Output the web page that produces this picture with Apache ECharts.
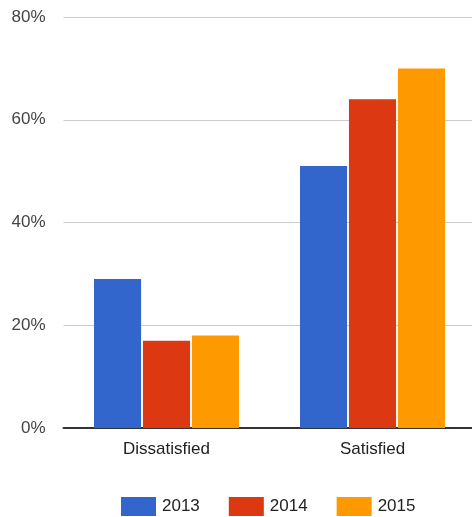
<!DOCTYPE html>
<html><head><meta charset="utf-8">
<script src="https://cdn.jsdelivr.net/npm/echarts@6/dist/echarts.min.js"></script>
<style>html,body{margin:0;padding:0;background:#fff}#c{width:472px;height:517px}</style>
</head><body><div id="c"></div>
<script>
const categories = ['Dissatisfied', 'Satisfied'];
const years = ['2013', '2014', '2015'];
const v2013 = [29, 51];
const v2014 = [17, 64];
const v2015 = [18, 70];
const yTicks = [0, 20, 40, 60, 80];
const colors = ['#3366CC', '#DC3912', '#FF9900'];
const font = 'Arial, "Liberation Sans", sans-serif';
const chart = echarts.init(document.getElementById('c'));
const seriesData = [v2013, v2014, v2015];
chart.setOption({
  animation: false,
  color: colors,
  textStyle: { fontFamily: font },
  grid: { left: 63.5, width: 412, top: 17, bottom: 89, containLabel: false, outerBoundsMode: 'none' },
  legend: {
    top: 497, left: 121, padding: 0,
    itemWidth: 35, itemHeight: 19, itemGap: 29,
    icon: 'rect',
    textStyle: { fontSize: 17, color: '#222', fontFamily: font, padding: [0, 0, 0, 1] },
    data: years
  },
  xAxis: {
    type: 'category', data: categories,
    axisLine: { lineStyle: { color: '#333', width: 2 } },
    axisTick: { show: false },
    axisLabel: { fontSize: 17, color: '#222', margin: 13, fontFamily: font }
  },
  yAxis: {
    type: 'value', min: yTicks[0], max: yTicks[yTicks.length - 1], interval: 20,
    axisLine: { show: false }, axisTick: { show: false },
    splitLine: { lineStyle: { color: '#cccccc', width: 1 } },
    axisLabel: { fontSize: 17, color: '#444', margin: 18, formatter: '{value}%', fontFamily: font }
  },
  series: years.map((y, i) => ({
    name: y, type: 'bar', data: seriesData[i],
    barGap: '4%', barCategoryGap: '29.6%'
  }))
});
</script></body></html>
